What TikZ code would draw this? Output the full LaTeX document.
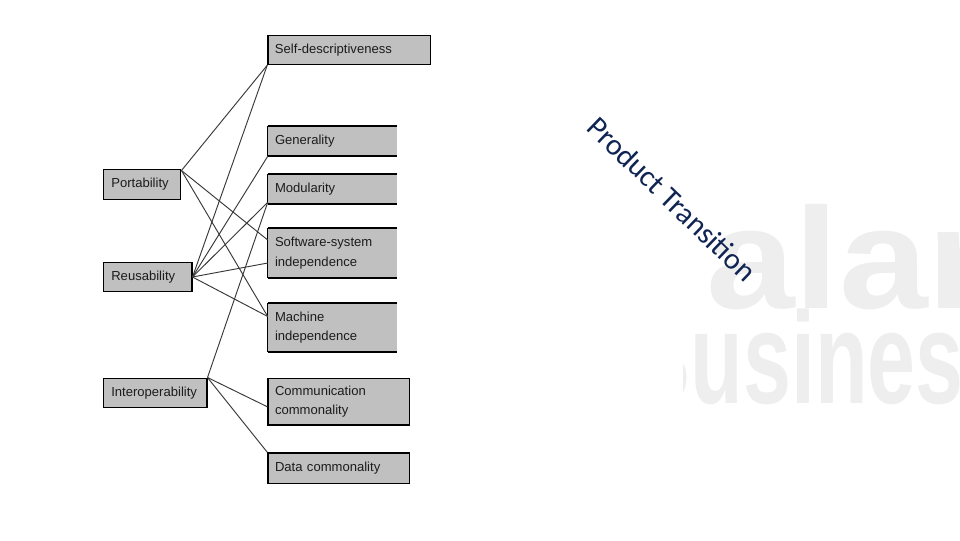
\documentclass[tikz,border=0pt]{standalone}
\usepackage{fontspec}
\setmainfont{Liberation Sans}
\newfontfamily\titlefont{Carlito}
\newfontfamily\wmfont{Liberation Sans}
\usetikzlibrary{calc}
\definecolor{boxfill}{HTML}{C0C0C0}
\definecolor{navy}{HTML}{0F2452}
\definecolor{wm}{HTML}{EEEEEE}
\definecolor{txt}{HTML}{1C1C1C}
\begin{document}
\begin{tikzpicture}[x=0.75pt,y=-0.75pt,
  lbl/.style={font=\fontsize{9.8pt}{14.6pt}\selectfont, text=txt, align=left, inner ysep=0pt},
  rbox/.style={lbl, fill=boxfill, draw=black, line width=1.1pt, inner xsep=5.25pt},
  obox/.style={lbl, fill=boxfill, draw=none, inner xsep=5.25pt},
  lbox/.style={lbl, fill=boxfill, draw=black, line width=1.2pt, inner xsep=6pt},
  openedge/.style={line width=1.5pt, draw=black},
  leftedge/.style={line width=0.9pt, draw=black},
  conn/.style={draw=black!78, line width=0.7pt},
  wmtext/.style={text=wm, inner sep=0pt, anchor=base west, font=\wmfont\bfseries\fontsize{98pt}{98pt}\selectfont}
]
\useasboundingbox (0,0) rectangle (960,540);
\fill[white] (0,0) rectangle (960,540);

% faint watermark
\begin{scope}
  \clip (683,150) rectangle (960,430);
  \node[wmtext] (wma) at (706,308) {\scalebox{1.22}[1.1]{alar}};
  \node[wmtext] (wmb) at (628,403) {\scalebox{0.66}[1]{Busines}};
\end{scope}

% right-hand boxes
\node[rbox, text width=111.4pt, minimum height=21.75pt] (SD) at (349.25,50) {Self-descriptiveness};
\node[obox, text width=86.25pt, minimum height=22.5pt] (G) at (332.5,141) {Generality};
\node[obox, text width=86.25pt, minimum height=22.5pt] (M) at (332.5,189) {Modularity};
\node[obox, text width=86.25pt, minimum height=37.5pt] (SSI) at (332.5,253) {Software-system\\independence};
\node[obox, text width=86.25pt, minimum height=36.75pt] (MI) at (332.5,327.5) {Machine\\independence};
\node[rbox, text width=95.6pt, minimum height=34.9pt] (CC) at (338.75,401.75) {Communication\\commonality};
\node[rbox, text width=95.6pt, minimum height=22.9pt] (DC) at (338.75,468.25) {Data commonality};

\foreach \b in {G,M,SSI,MI}{
  \draw[openedge] (\b.north east) -- (\b.north west);
  \draw[openedge] (\b.south west) -- (\b.south east);
  \draw[leftedge] (\b.north west) -- (\b.south west);
}

% left-hand boxes
\node[lbox, text width=46pt, minimum height=22.5pt] (P) at (142,184.3) {Portability};
\node[lbox, text width=54.3pt, minimum height=22pt] (R) at (147.5,277) {Reusability};
\node[lbox, text width=65.55pt, minimum height=21.75pt] (I) at (155,392.8) {Interoperability};

% connectors
\draw[conn] ([yshift=-1.5pt]P.north east) -- (SD.south west);
\draw[conn] ([yshift=-1.5pt]P.north east) -- ([yshift=9.75pt]SSI.west);
\draw[conn] ([yshift=-1.5pt]P.north east) -- ([yshift=8.25pt]MI.west);

\draw[conn] (R.east) -- (SD.south west);
\draw[conn] (R.east) -- (G.south west);
\draw[conn] (R.east) -- ([yshift=1.5pt]M.south west);
\draw[conn] (R.east) -- ([yshift=-7.5pt]SSI.west);
\draw[conn] (R.east) -- ([yshift=8.25pt]MI.west);

\draw[conn] (I.north east) -- ([yshift=1.5pt]M.south west);
\draw[conn] (I.north east) -- ([yshift=-3.75pt]CC.west);
\draw[conn] (I.north east) -- (DC.north west);

% rotated title
\node[font=\titlefont\fontsize{22.5pt}{27pt}\selectfont, text=navy, rotate=-44, inner sep=0pt] (title) at (672,199) {Product Transition};
\end{tikzpicture}
\end{document}
